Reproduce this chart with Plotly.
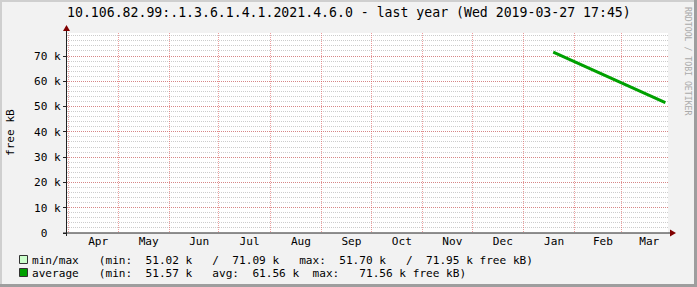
import plotly.graph_objects as go

# ---- data ----
dates = ["2019-01-19 00:00", "2019-02-08 00:00", "2019-03-01 00:00", "2019-03-27 17:45"]
avg_vals = [71560, 65650, 59450, 51570]
min_vals = [71090, 65150, 58950, 51020]
max_vals = [71950, 66100, 59900, 51700]
y_tickvals = [0, 10000, 20000, 30000, 40000, 50000, 60000, 70000]
y_ticktext = ["0\u00a0\u00a0", "10 k", "20 k", "30 k", "40 k", "50 k", "60 k", "70 k"]
title_text = "10.106.82.99:.1.3.6.1.4.1.2021.4.6.0 - last year (Wed 2019-03-27 17:45)"
legend_rows = [
    "min/max   (min:  51.02 k   /  71.09 k   max:  51.70 k   /  71.95 k free kB)",
    "average   (min:  51.57 k   avg:  61.56 k  max:   71.56 k free kB)",
]
legend_colors = ["#ccffcc", "#00a000"]

# ---- geometry (pixels) ----
WIDTH, HEIGHT = 697, 287
L, R, T, B = 67, 668, 33, 233
PW, PH = R - L, B - T


def px(x):
    return (x - L) / PW


def py(y):
    return (B - y) / PH


MONO = "DejaVu Sans Mono"
GRID = "rgba(143,143,143,0.45)"
MGRID = "rgba(222,79,79,0.55)"

fig = go.Figure()
fig.add_trace(go.Scatter(x=dates, y=min_vals, mode="lines", line=dict(width=0, color="#ccffcc"),
                         hoverinfo="skip", showlegend=False))
fig.add_trace(go.Scatter(x=dates, y=max_vals, mode="lines", line=dict(width=0, color="#ccffcc"),
                         fill="tonexty", fillcolor="#ccffcc", hoverinfo="skip", showlegend=False))
fig.add_trace(go.Scatter(x=dates, y=avg_vals, mode="lines", line=dict(width=3, color="#00a000"),
                         showlegend=False))

shapes = []
# frame shading
shapes.append(dict(type="rect", xref="paper", yref="paper", x0=px(0), x1=px(WIDTH), y0=py(0), y1=py(2),
                   fillcolor="#cfcfcf", line=dict(width=0), layer="above"))
shapes.append(dict(type="rect", xref="paper", yref="paper", x0=px(0), x1=px(2), y0=py(0), y1=py(HEIGHT),
                   fillcolor="#cfcfcf", line=dict(width=0), layer="above"))
shapes.append(dict(type="rect", xref="paper", yref="paper", x0=px(WIDTH - 3), x1=px(WIDTH), y0=py(0), y1=py(HEIGHT),
                   fillcolor="#9e9e9e", line=dict(width=0), layer="above"))
shapes.append(dict(type="rect", xref="paper", yref="paper", x0=px(0), x1=px(WIDTH), y0=py(HEIGHT - 3), y1=py(HEIGHT),
                   fillcolor="#9e9e9e", line=dict(width=0), layer="above"))
# axes with arrows
shapes.append(dict(type="line", xref="paper", yref="paper", x0=px(63), x1=px(672), y0=py(233), y1=py(233),
                   line=dict(color="#212121", width=1), layer="above"))
shapes.append(dict(type="line", xref="paper", yref="paper", x0=px(66.5), x1=px(66.5), y0=py(236), y1=py(29),
                   line=dict(color="#212121", width=1), layer="above"))
shapes.append(dict(type="path", xref="paper", yref="paper",
                   path=f"M {px(670)} {py(229.5)} L {px(676)} {py(233)} L {px(670)} {py(236.5)} Z",
                   fillcolor="#800000", line=dict(width=0), layer="above"))
shapes.append(dict(type="path", xref="paper", yref="paper",
                   path=f"M {px(63)} {py(31)} L {px(66.5)} {py(25)} L {px(70)} {py(31)} Z",
                   fillcolor="#800000", line=dict(width=0), layer="above"))
# legend swatches
for i, c in enumerate(legend_colors):
    yc = 259.5 + i * 13
    shapes.append(dict(type="rect", xref="paper", yref="paper", x0=px(19.5), x1=px(27.5),
                       y0=py(yc - 4), y1=py(yc + 4), fillcolor=c,
                       line=dict(color="#333333", width=1), layer="above"))

annotations = []
annotations.append(dict(text=title_text, xref="paper", yref="paper", x=px(348.5), y=py(13),
                        xanchor="center", yanchor="middle", showarrow=False,
                        font=dict(family=MONO, size=13.2, color="#000000")))
annotations.append(dict(text="free kB", xref="paper", yref="paper", x=px(10), y=py(133),
                        xanchor="center", yanchor="middle", showarrow=False, textangle=-90,
                        font=dict(family=MONO, size=11.1, color="#000000")))
annotations.append(dict(text="RRDTOOL / TOBI OETIKER", xref="paper", yref="paper", x=px(688), y=py(61),
                        xanchor="center", yanchor="middle", showarrow=False, textangle=90,
                        font=dict(family=MONO, size=8.2, color="#aaaaaa")))
for i, row in enumerate(legend_rows):
    annotations.append(dict(text=row.replace(" ", "\u00a0"), xref="paper", yref="paper",
                            x=px(30), y=py(260 + i * 13), xanchor="left", yanchor="middle",
                            showarrow=False, font=dict(family=MONO, size=11.1, color="#000000")))

fig.update_layout(
    width=WIDTH, height=HEIGHT,
    margin=dict(l=L, r=WIDTH - R, t=T, b=HEIGHT - B, pad=0),
    paper_bgcolor="#f2f2f2", plot_bgcolor="#ffffff",
    showlegend=False,
    xaxis=dict(type="date", range=["2018-03-31 04:00", "2019-03-29 08:00"],
               dtick="M1", tick0="2018-04-01", tickformat="%b", ticklabelmode="period",
               ticklabelshift=5,
               showgrid=True, gridcolor=MGRID, griddash="1px,1px", gridwidth=1,
               zeroline=False, showline=False, ticks="",
               tickfont=dict(family=MONO, size=11.1, color="#000000"), fixedrange=True),
    yaxis=dict(range=[0, 79100], tickvals=y_tickvals, ticktext=y_ticktext,
               showgrid=True, gridcolor=MGRID, griddash="1px,1px", gridwidth=1,
               minor=dict(dtick=2000, tick0=0, showgrid=True, gridcolor=GRID, griddash="1px,1px", gridwidth=1),
               zeroline=False, showline=False, ticks="outside", ticklen=3, tickcolor="#212121",
               tickfont=dict(family=MONO, size=11.1, color="#000000"), fixedrange=True),
    shapes=shapes, annotations=annotations,
)

fig.write_html("out.html")
